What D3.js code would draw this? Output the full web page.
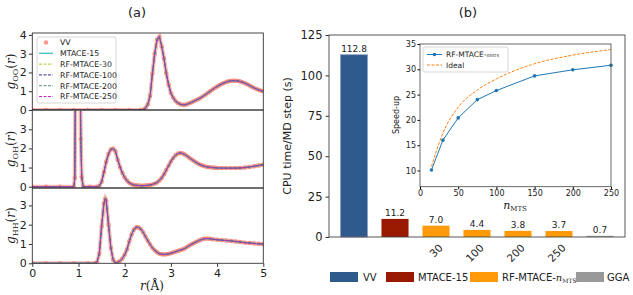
<!DOCTYPE html>
<html>
<head>
<meta charset="utf-8">
<script src="https://cdn.jsdelivr.net/npm/d3@7"></script>
<style>
  body { margin: 0; background: #fff; }
  text { font-family: "DejaVu Sans", sans-serif; fill: #222; }
  .math { font-family: "DejaVu Serif", serif; }
</style>
</head>
<body>
<svg id="chart"></svg>
<script>
const width = 633;
const height = 295;

// ---- data : panel (a), radial distribution functions [r, g(r)] ----
const gOO = [
  [0,0],[0.3,0],[0.6,0],[0.9,0],[1.2,0],[1.5,0],[1.8,0],[2.1,0],[2.35,0],
  [2.40,0.02],[2.45,0.1],[2.50,0.3],[2.55,0.75],[2.60,1.95],[2.65,3.0],[2.70,3.75],
  [2.75,3.9],[2.80,3.4],[2.85,2.75],[2.90,1.95],[2.95,1.35],[3.00,0.9],[3.05,0.65],
  [3.10,0.48],[3.15,0.38],[3.20,0.31],[3.25,0.28],[3.30,0.28],[3.35,0.31],[3.40,0.36],
  [3.45,0.41],[3.50,0.47],[3.55,0.53],[3.60,0.59],[3.65,0.66],[3.70,0.74],[3.75,0.82],
  [3.80,0.91],[3.85,1.0],[3.90,1.09],[3.95,1.17],[4.00,1.25],[4.05,1.32],[4.10,1.39],
  [4.15,1.44],[4.20,1.49],[4.25,1.53],[4.30,1.55],[4.35,1.56],[4.40,1.56],[4.45,1.55],
  [4.50,1.52],[4.55,1.48],[4.60,1.43],[4.65,1.37],[4.70,1.31],[4.75,1.24],[4.80,1.18],
  [4.85,1.12],[4.90,1.07],[4.95,1.03],[5.00,0.99]
];
const gOH = [
  [0,0],[0.3,0],[0.6,0],[0.9,0],[0.92,0.47],[0.94,8],[0.96,25],[0.98,35],[1.00,30],
  [1.02,15],[1.04,5],[1.05,2.48],[1.07,0.5],[1.10,0],[1.25,0],[1.40,0],
  [1.45,0.03],[1.50,0.25],[1.55,0.75],[1.60,1.3],[1.65,1.72],[1.70,1.95],[1.75,1.99],
  [1.80,1.85],[1.85,1.4],[1.90,1.02],[1.95,0.72],[2.00,0.48],[2.05,0.31],[2.10,0.2],
  [2.15,0.13],[2.20,0.09],[2.25,0.07],[2.30,0.06],[2.35,0.05],[2.40,0.05],[2.45,0.06],
  [2.50,0.07],[2.55,0.09],[2.60,0.12],[2.65,0.16],[2.70,0.22],[2.75,0.32],[2.80,0.45],
  [2.85,0.65],[2.90,0.87],[2.95,1.1],[3.00,1.32],[3.05,1.5],[3.10,1.64],[3.15,1.73],
  [3.20,1.76],[3.25,1.74],[3.30,1.68],[3.35,1.6],[3.40,1.51],[3.45,1.42],[3.50,1.34],
  [3.55,1.26],[3.60,1.19],[3.65,1.13],[3.70,1.09],[3.75,1.05],[3.80,1.03],[3.85,1.01],
  [3.90,1.0],[3.95,0.99],[4.00,0.98],[4.10,0.97],[4.20,0.97],[4.30,0.97],[4.40,0.97],
  [4.50,0.98],[4.60,1.0],[4.70,1.03],[4.80,1.07],[4.90,1.11],[5.00,1.15]
];
const gHH = [
  [0,0],[0.3,0],[0.6,0],[0.9,0],[1.2,0],[1.35,0],[1.40,0.05],[1.45,0.5],[1.50,1.9],
  [1.55,3.1],[1.58,3.35],[1.60,3.25],[1.65,2.0],[1.70,0.8],[1.75,0.18],[1.80,0.02],
  [1.85,0.05],[1.90,0.12],[1.95,0.25],[2.00,0.45],[2.05,0.72],[2.10,1.15],[2.15,1.5],
  [2.20,1.75],[2.25,1.87],[2.30,1.86],[2.35,1.77],[2.40,1.6],[2.45,1.38],[2.50,1.17],
  [2.55,0.98],[2.60,0.8],[2.65,0.67],[2.70,0.57],[2.75,0.5],[2.80,0.47],[2.85,0.46],
  [2.90,0.47],[2.95,0.49],[3.00,0.52],[3.05,0.56],[3.10,0.6],[3.15,0.64],[3.20,0.68],
  [3.25,0.72],[3.30,0.77],[3.35,0.85],[3.40,0.92],[3.45,0.99],[3.50,1.05],[3.55,1.11],
  [3.60,1.17],[3.65,1.22],[3.70,1.26],[3.75,1.28],[3.80,1.28],[3.85,1.27],[3.90,1.25],
  [4.00,1.22],[4.10,1.2],[4.20,1.18],[4.30,1.16],[4.40,1.13],[4.50,1.1],[4.60,1.07],
  [4.70,1.05],[4.80,1.03],[4.90,1.01],[5.00,0.99]
];
const rdfSeries = ['VV', 'MTACE-15', 'RF-MTACE-30', 'RF-MTACE-100', 'RF-MTACE-200', 'RF-MTACE-250'];
const rdfColors = ['#fa8072', '#4cc3c8', '#bcbd22', '#2b2b8c', '#5b8a8a', '#c828c8'];

// ---- data : panel (b) ----
const barNames = ['VV', 'MTACE-15', '30', '100', '200', '250', 'GGA'];
const barValues = [112.8, 11.2, 7.0, 4.4, 3.8, 3.7, 0.7];
const barGroup = ['VV', 'MTACE-15', 'RF', 'RF', 'RF', 'RF', 'GGA'];
const groupColors = { 'VV': '#2e5a8c', 'MTACE-15': '#991800', 'RF': '#ff9a0a', 'GGA': '#999999' };

const nMTS = [15, 30, 50, 75, 100, 150, 200, 250];
const speedup = [10.1, 16.0, 20.4, 24.0, 25.8, 28.7, 29.9, 30.8];
const ideal = [10.8, 17.4, 22.5, 25.9, 28.1, 31.1, 32.8, 33.9];

const svg = d3.select('#chart')
  .attr('width', width)
  .attr('height', height);

/* ================= panel (a) ================= */
const x = d3.scaleLinear().domain([0, 5]).range([32.3, 263.3]);

const panels = [
  { data: gOO, top: 33, bottom: 110, dom: [0, 4.1], ticks: [0,1,2,3,4], sub: 'OO' },
  { data: gOH, top: 110, bottom: 188, dom: [-0.07, 4.01], ticks: [0,1,2,3], sub: 'OH' },
  { data: gHH, top: 188, bottom: 263.3, dom: [0, 3.9], ticks: [0,1,2,3], sub: 'HH' }
];

panels.forEach((p, i) => {
  const y = d3.scaleLinear().domain(p.dom).range([p.bottom, p.top]);
  const g = svg.append('g');

  svg.append('clipPath').attr('id', 'clip' + i)
    .append('rect')
      .attr('x', x.range()[0]).attr('y', p.top)
      .attr('width', x.range()[1] - x.range()[0]).attr('height', p.bottom - p.top);

  const plot = g.append('g').attr('clip-path', `url(#clip${i})`);
  const line = d3.line().x(d => x(d[0])).y(d => y(d[1]));

  // VV reference: thick translucent band + dots
  plot.append('path')
    .attr('d', line(p.data))
    .attr('fill', 'none')
    .attr('stroke', rdfColors[0])
    .attr('stroke-opacity', 0.55)
    .attr('stroke-width', 4);
  plot.selectAll('circle.vv')
    .data(p.data)
    .enter()
    .append('circle')
      .attr('cx', d => x(d[0]))
      .attr('cy', d => y(d[1]))
      .attr('r', 2.2)
      .attr('fill', rdfColors[0])
      .attr('fill-opacity', 0.75);

  // model curves
  rdfSeries.slice(1).forEach((name, k) => {
    plot.append('path')
      .attr('d', line(p.data))
      .attr('fill', 'none')
      .attr('stroke', rdfColors[k + 1])
      .attr('stroke-width', k === 0 ? 1.4 : 1)
      .attr('stroke-dasharray', k === 0 ? null : '3,1.5')
      .attr('stroke-dashoffset', k * 1.1);
  });

  // y axis
  const yAxis = g.append('g')
    .attr('transform', `translate(${x.range()[0]},0)`)
    .call(d3.axisLeft(y).tickValues(p.ticks).tickFormat(d3.format('d')).tickSize(3.5).tickPadding(2));
  yAxis.select('.domain').remove();
  yAxis.selectAll('text').style('font-size', '11px');
  yAxis.selectAll('line').attr('stroke', '#333');

  if (i === 2) {
    const xAxis = g.append('g')
      .attr('transform', `translate(0,${p.bottom})`)
      .call(d3.axisBottom(x).ticks(5).tickFormat(d3.format('d')).tickSize(3.5).tickPadding(2));
    xAxis.select('.domain').remove();
    xAxis.selectAll('text').style('font-size', '11px');
    xAxis.selectAll('line').attr('stroke', '#333');
  }

  // frame
  g.append('rect')
    .attr('x', x.range()[0]).attr('y', p.top)
    .attr('width', x.range()[1] - x.range()[0]).attr('height', p.bottom - p.top)
    .attr('fill', 'none').attr('stroke', '#333').attr('stroke-width', 0.9);

  // y label g_XX(r)
  const lab = g.append('text')
    .attr('class', 'math')
    .attr('transform', `translate(15,${(p.top + p.bottom) / 2}) rotate(-90)`)
    .attr('text-anchor', 'middle')
    .style('font-size', '12px');
  lab.append('tspan').style('font-style', 'italic').text('g');
  lab.append('tspan').attr('dy', 3).style('font-size', '8px').text(p.sub);
  lab.append('tspan').attr('dy', -3).text('(');
  lab.append('tspan').style('font-style', 'italic').text('r');
  lab.append('tspan').text(')');
});

// legend (a)
const legA = svg.append('g');
legA.append('rect')
  .attr('x', 37).attr('y', 37).attr('width', 79).attr('height', 66).attr('rx', 2)
  .attr('fill', '#fff').attr('fill-opacity', 0.85)
  .attr('stroke', '#ccc').attr('stroke-width', 0.8);
rdfSeries.forEach((name, k) => {
  const ly = 42.5 + k * 10.8;
  if (k === 0) {
    legA.append('circle').attr('cx', 46).attr('cy', ly).attr('r', 2.2)
      .attr('fill', rdfColors[0]).attr('fill-opacity', 0.8);
  } else {
    legA.append('line')
      .attr('x1', 39).attr('x2', 53).attr('y1', ly).attr('y2', ly)
      .attr('stroke', rdfColors[k])
      .attr('stroke-width', k === 1 ? 1.4 : 1)
      .attr('stroke-dasharray', k === 1 ? null : '3,1.5');
  }
  legA.append('text')
    .attr('x', 60).attr('y', ly + 2.8)
    .style('font-size', '7.8px')
    .text(name);
});

// x label r(Å)
const xlab = svg.append('text')
  .attr('class', 'math')
  .attr('x', 152).attr('y', 290)
  .attr('text-anchor', 'middle')
  .style('font-size', '12px');
xlab.append('tspan').style('font-style', 'italic').text('r');
xlab.append('tspan').text('(Å)');

svg.append('text').attr('x', 137).attr('y', 17)
  .attr('text-anchor', 'middle').style('font-size', '13px').text('(a)');
svg.append('text').attr('x', 468).attr('y', 17)
  .attr('text-anchor', 'middle').style('font-size', '13px').text('(b)');

/* ================= panel (b) ================= */
const bx = d3.scaleBand().domain(barNames).range([329, 625])
  .paddingInner(0.34).paddingOuter(0.28);
const by = d3.scaleLinear().domain([0, 125]).range([237, 35]);

const gb = svg.append('g');

gb.selectAll('rect.bar')
  .data(barNames)
  .enter()
  .append('rect')
    .attr('class', 'bar')
    .attr('x', d => bx(d))
    .attr('y', (d, i) => by(barValues[i]))
    .attr('width', bx.bandwidth())
    .attr('height', (d, i) => by(0) - by(barValues[i]))
    .attr('fill', (d, i) => groupColors[barGroup[i]])
    .attr('stroke', (d, i) => i === 0 ? '#8aa2c4' : 'none')
    .attr('stroke-width', 0.8);

gb.selectAll('text.val')
  .data(barNames)
  .enter()
  .append('text')
    .attr('x', d => bx(d) + bx.bandwidth() / 2)
    .attr('y', (d, i) => by(barValues[i]) - 3)
    .attr('text-anchor', 'middle')
    .style('font-size', '9px')
    .text((d, i) => barValues[i].toFixed(1));

const byAxis = gb.append('g')
  .attr('transform', 'translate(329,0)')
  .call(d3.axisLeft(by).tickValues([0, 25, 50, 75, 100, 125]).tickSize(3.5).tickPadding(3));
byAxis.select('.domain').remove();
byAxis.selectAll('text').style('font-size', '11.5px');
byAxis.selectAll('line').attr('stroke', '#333');

// rotated tick labels for n_MTS bars
gb.selectAll('text.xt')
  .data(barNames.filter((d, i) => barGroup[i] === 'RF'))
  .enter()
  .append('text')
    .attr('transform', d => `translate(${bx(d) + bx.bandwidth() / 2 + 3},${by(0) + 7}) rotate(-45)`)
    .attr('text-anchor', 'end')
    .attr('dy', '0.6em')
    .style('font-size', '10.5px')
    .text(d => d);

gb.append('rect')
  .attr('x', 329).attr('y', 35).attr('width', 296).attr('height', 202)
  .attr('fill', 'none').attr('stroke', '#444').attr('stroke-width', 0.9);

gb.append('text')
  .attr('transform', `translate(291,136) rotate(-90)`)
  .attr('text-anchor', 'middle')
  .style('font-size', '11px')
  .text('CPU time/MD step (s)');

// bottom legend
const legB = [
  { label: 'VV', key: 'VV', rx: 330, tx: 363 },
  { label: 'MTACE-15', key: 'MTACE-15', rx: 386, tx: 418 },
  { label: 'RF-MTACE-', key: 'RF', rx: 470, tx: 502 },
  { label: 'GGA', key: 'GGA', rx: 576, tx: 607 }
];
legB.forEach(l => {
  gb.append('rect')
    .attr('x', l.rx).attr('y', 272).attr('width', 28).attr('height', 10)
    .attr('fill', groupColors[l.key]);
  const t = gb.append('text')
    .attr('x', l.tx).attr('y', 281)
    .style('font-size', '10px')
    .text(l.label);
  if (l.key === 'RF') {
    t.append('tspan').attr('class', 'math').style('font-style', 'italic').text('n');
    t.append('tspan').attr('class', 'math').attr('dy', 2).style('font-size', '6px').text('MTS');
  }
});

/* ================= inset ================= */
const ix = d3.scaleLinear().domain([0, 250]).range([420, 611]);
const iy = d3.scaleLinear().domain([6.8, 35]).range([186.7, 44]);
const gi = svg.append('g');

gi.append('rect')
  .attr('x', 420).attr('y', 44).attr('width', 191).attr('height', 142.7)
  .attr('fill', '#fff');

const ideaLine = d3.line().x((d, i) => ix(nMTS[i])).y(d => iy(d)).curve(d3.curveMonotoneX);
gi.append('path')
  .attr('d', ideaLine(ideal))
  .attr('fill', 'none').attr('stroke', '#ff7f0e')
  .attr('stroke-width', 1).attr('stroke-dasharray', '3,1.5');

const spLine = d3.line().x((d, i) => ix(nMTS[i])).y(d => iy(d));
gi.append('path')
  .attr('d', spLine(speedup))
  .attr('fill', 'none').attr('stroke', '#1f77b4').attr('stroke-width', 1);
gi.selectAll('circle.sp')
  .data(speedup)
  .enter()
  .append('circle')
    .attr('cx', (d, i) => ix(nMTS[i]))
    .attr('cy', d => iy(d))
    .attr('r', 1.8)
    .attr('fill', '#1f77b4');

const ixAxis = gi.append('g')
  .attr('transform', 'translate(0,186.7)')
  .call(d3.axisBottom(ix).tickValues([0, 50, 100, 150, 200, 250]).tickSize(2.5).tickPadding(1.5));
ixAxis.select('.domain').remove();
ixAxis.selectAll('text').style('font-size', '8px');

const iyAxis = gi.append('g')
  .attr('transform', 'translate(420,0)')
  .call(d3.axisLeft(iy).tickValues([10, 15, 20, 25, 30, 35]).tickSize(2.5).tickPadding(1.5));
iyAxis.select('.domain').remove();
iyAxis.selectAll('text').style('font-size', '8px');

gi.append('rect')
  .attr('x', 420).attr('y', 44).attr('width', 191).attr('height', 142.7)
  .attr('fill', 'none').attr('stroke', '#444').attr('stroke-width', 0.8);

gi.append('text')
  .attr('transform', 'translate(399,115) rotate(-90)')
  .attr('text-anchor', 'middle')
  .style('font-size', '8px')
  .text('Speed-up');

const ixl = gi.append('text')
  .attr('class', 'math')
  .attr('x', 515).attr('y', 209)
  .attr('text-anchor', 'middle')
  .style('font-size', '11px');
ixl.append('tspan').style('font-style', 'italic').text('n');
ixl.append('tspan').attr('dy', 2).style('font-size', '7px').text('MTS');

// inset legend
gi.append('rect')
  .attr('x', 423).attr('y', 47).attr('width', 85).attr('height', 25).attr('rx', 2)
  .attr('fill', '#fff').attr('stroke', '#ccc').attr('stroke-width', 0.8);
gi.append('line').attr('x1', 427).attr('x2', 442).attr('y1', 54.5).attr('y2', 54.5)
  .attr('stroke', '#1f77b4').attr('stroke-width', 1);
gi.append('circle').attr('cx', 434.5).attr('cy', 54.5).attr('r', 1.8).attr('fill', '#1f77b4');
gi.append('line').attr('x1', 427).attr('x2', 442).attr('y1', 65).attr('y2', 65)
  .attr('stroke', '#ff7f0e').attr('stroke-width', 1).attr('stroke-dasharray', '3,1.5');
const il1 = gi.append('text').attr('x', 446).attr('y', 57.3).style('font-size', '7.5px').text('RF-MTACE-');
il1.append('tspan').attr('class', 'math').style('font-style', 'italic').style('font-size', '5px').text('n');
il1.append('tspan').attr('class', 'math').style('font-size', '4px').text('MTS');
gi.append('text').attr('x', 446).attr('y', 67.8).style('font-size', '7.5px').text('Ideal');
</script>
</body>
</html>
